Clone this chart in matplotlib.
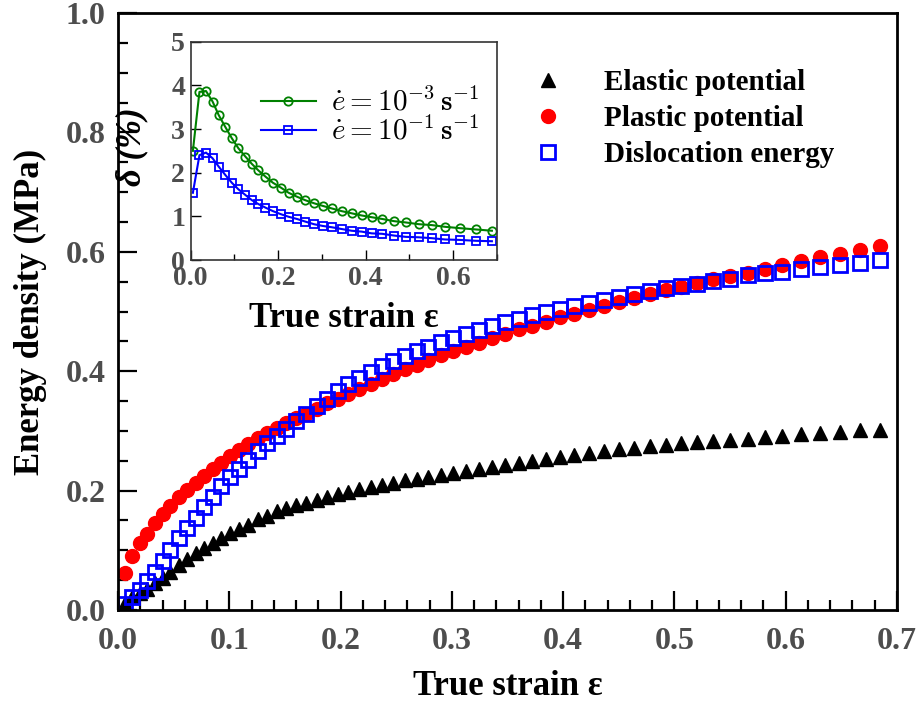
import matplotlib
matplotlib.use("Agg")
import matplotlib.pyplot as plt
from matplotlib.ticker import MultipleLocator

# main plot: energy density vs true strain
strain = [0.006, 0.013, 0.020, 0.026, 0.033, 0.040, 0.047, 0.055, 0.062, 0.070,
          0.077, 0.085, 0.093, 0.101, 0.109, 0.117, 0.126, 0.134, 0.143, 0.151,
          0.160, 0.169, 0.179, 0.188, 0.198, 0.207, 0.217, 0.227, 0.237, 0.247,
          0.258, 0.269, 0.279, 0.290, 0.301, 0.313, 0.324, 0.336, 0.348, 0.360,
          0.372, 0.385, 0.397, 0.410, 0.423, 0.437, 0.450, 0.464, 0.478, 0.492,
          0.506, 0.520, 0.535, 0.550, 0.566, 0.581, 0.597, 0.614, 0.631, 0.649,
          0.667, 0.685]

elastic = [0.012, 0.021, 0.029, 0.036, 0.045, 0.054, 0.064, 0.076, 0.086, 0.096,
           0.104, 0.113, 0.121, 0.129, 0.136, 0.143, 0.152, 0.158, 0.165, 0.171,
           0.176, 0.180, 0.185, 0.190, 0.194, 0.198, 0.202, 0.206, 0.209, 0.213,
           0.217, 0.220, 0.223, 0.226, 0.229, 0.232, 0.236, 0.240, 0.243, 0.246,
           0.250, 0.253, 0.256, 0.260, 0.263, 0.266, 0.269, 0.272, 0.274, 0.277,
           0.279, 0.281, 0.283, 0.285, 0.287, 0.290, 0.292, 0.294, 0.296, 0.298,
           0.301, 0.302]

plastic = [0.062, 0.091, 0.112, 0.128, 0.145, 0.160, 0.175, 0.189, 0.201, 0.213,
           0.224, 0.236, 0.247, 0.258, 0.268, 0.278, 0.288, 0.297, 0.305, 0.313,
           0.321, 0.329, 0.337, 0.346, 0.354, 0.362, 0.370, 0.379, 0.387, 0.395,
           0.403, 0.411, 0.419, 0.427, 0.434, 0.441, 0.448, 0.455, 0.463, 0.470,
           0.476, 0.483, 0.490, 0.496, 0.502, 0.509, 0.516, 0.523, 0.530, 0.536,
           0.541, 0.547, 0.554, 0.559, 0.565, 0.572, 0.578, 0.584, 0.591, 0.596,
           0.603, 0.609]

dislocation = [0.010, 0.022, 0.033, 0.048, 0.064, 0.082, 0.100, 0.121, 0.137, 0.154,
               0.172, 0.190, 0.207, 0.222, 0.237, 0.251, 0.266, 0.279, 0.292, 0.304,
               0.317, 0.329, 0.342, 0.354, 0.366, 0.378, 0.389, 0.399, 0.408, 0.417,
               0.425, 0.433, 0.441, 0.449, 0.456, 0.463, 0.469, 0.476, 0.482, 0.488,
               0.494, 0.499, 0.504, 0.510, 0.515, 0.520, 0.525, 0.530, 0.535, 0.539,
               0.543, 0.546, 0.551, 0.554, 0.561, 0.564, 0.567, 0.571, 0.575, 0.578,
               0.582, 0.587]

# inset: delta (%) for two strain rates
strain_in = [0.005, 0.020, 0.035, 0.050, 0.064, 0.079, 0.094, 0.109, 0.125, 0.140,
             0.155, 0.171, 0.188, 0.206, 0.224, 0.243, 0.262, 0.282, 0.302, 0.323,
             0.345, 0.368, 0.391, 0.414, 0.438, 0.465, 0.492, 0.522, 0.551, 0.582,
             0.615, 0.652, 0.689]
delta_slow = [2.50, 3.85, 3.87, 3.63, 3.32, 3.05, 2.79, 2.56, 2.37, 2.20,
              2.05, 1.91, 1.77, 1.66, 1.54, 1.45, 1.37, 1.30, 1.24, 1.18,
              1.12, 1.07, 1.02, 0.98, 0.94, 0.89, 0.86, 0.82, 0.80, 0.76,
              0.73, 0.70, 0.67]
delta_fast = [1.54, 2.40, 2.46, 2.33, 2.14, 1.95, 1.77, 1.62, 1.49, 1.37,
              1.28, 1.20, 1.12, 1.05, 0.99, 0.94, 0.88, 0.82, 0.78, 0.75,
              0.71, 0.67, 0.65, 0.61, 0.60, 0.56, 0.53, 0.52, 0.50, 0.47,
              0.46, 0.44, 0.43]

plt.rcParams['font.family'] = ['Liberation Serif', 'DejaVu Serif']
plt.rcParams['font.weight'] = 'bold'
plt.rcParams['axes.labelweight'] = 'bold'
plt.rcParams['mathtext.fontset'] = 'cm'

tick_grey = '#4d4d4d'

fig = plt.figure(figsize=(9.19, 7.06), dpi=100)
ax = fig.add_axes([118 / 919, 1 - 610 / 706, 779 / 919, 597 / 706])

ax.plot(strain, elastic, ls='none', marker='^', ms=10, color='black',
        label='Elastic potential')
ax.plot(strain, plastic, ls='none', marker='o', ms=10, color='red', mec='red',
        label='Plastic potential')
ax.plot(strain, dislocation, ls='none', marker='s', ms=10, mfc='none',
        mec='blue', mew=2, label='Dislocation energy')

ax.set_xlim(0, 0.7)
ax.set_ylim(0, 1.0)
ax.xaxis.set_major_locator(MultipleLocator(0.1))
ax.xaxis.set_minor_locator(MultipleLocator(0.02))
ax.yaxis.set_major_locator(MultipleLocator(0.2))
ax.yaxis.set_minor_locator(MultipleLocator(0.05))
ax.tick_params(which='both', direction='in', width=1.6, labelsize=23,
               labelcolor=tick_grey)
ax.tick_params(axis='x', pad=12)
ax.tick_params(axis='y', pad=9)
ax.tick_params(which='major', length=14)
ax.tick_params(which='minor', length=7)
for sp in ax.spines.values():
    sp.set_linewidth(2)
ax.set_xlabel('True strain ε', fontsize=25, labelpad=10)
ax.set_ylabel('Energy density (MPa)', fontsize=25, labelpad=13)

ax.legend(loc='upper left', bbox_to_anchor=(0.5, 0.925), frameon=False,
          fontsize=21, handletextpad=0.9, labelspacing=0.3, borderaxespad=0)

# inset axes
axi = fig.add_axes([190.7 / 919, 1 - 260 / 706, 306 / 919, 218.3 / 706])
axi.plot(strain_in, delta_slow, color='green', marker='o', ms=6, mfc='none',
         lw=1.5, mew=1.3, label=r'$\dot{e}=10^{-3}\,\mathbf{s}^{-1}$')
axi.plot(strain_in, delta_fast, color='blue', marker='s', ms=6, mfc='none',
         lw=1.5, mew=1.3, label=r'$\dot{e}=10^{-1}\,\mathbf{s}^{-1}$')
axi.set_xlim(0, 0.7)
axi.set_ylim(0, 5)
axi.xaxis.set_major_locator(MultipleLocator(0.2))
axi.xaxis.set_minor_locator(MultipleLocator(0.1))
axi.yaxis.set_major_locator(MultipleLocator(1))
axi.tick_params(which='both', direction='in', width=1, labelsize=20,
                labelcolor=tick_grey, pad=4)
axi.tick_params(which='major', length=7)
axi.tick_params(which='minor', length=4)
for sp in axi.spines.values():
    sp.set_linewidth(1.2)
    sp.set_color('#333333')
axi.set_xlabel('True strain ε', fontsize=25, labelpad=8)
axi.set_ylabel('δ (%)', fontsize=25, style='italic')
axi.yaxis.set_label_coords(-0.14, 0.52)
axi.legend(loc='upper right', bbox_to_anchor=(1.0, 0.87), frameon=False,
           fontsize=21, handlelength=1.9, handletextpad=0.5, labelspacing=0.0,
           borderaxespad=0.2)

fig.savefig('out.png', dpi=100)
